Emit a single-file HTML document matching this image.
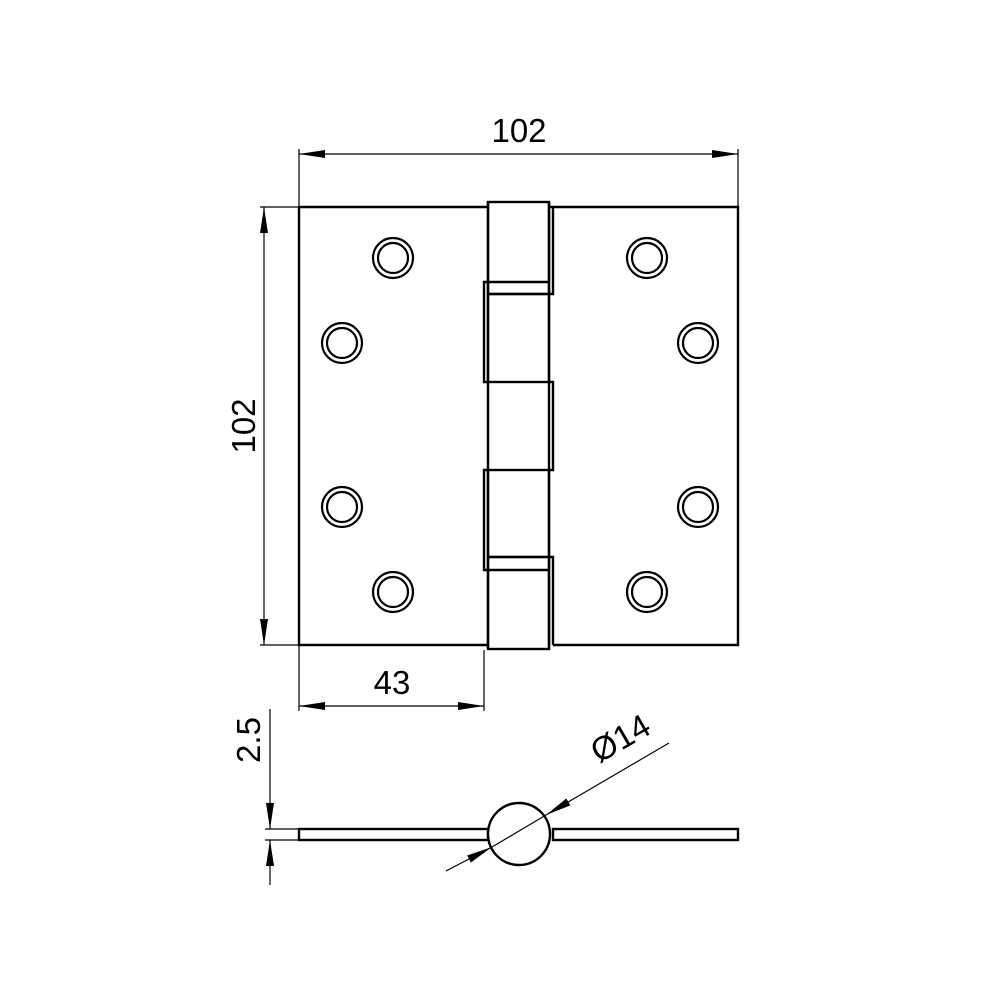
<!DOCTYPE html>
<html><head><style>body{margin:0;background:#fff}svg{display:block}</style></head><body>
<svg width="1000" height="1000" viewBox="0 0 1000 1000" xmlns="http://www.w3.org/2000/svg">
<defs>
<marker id="a" markerWidth="26" markerHeight="8" refX="26" refY="4" orient="auto" markerUnits="userSpaceOnUse"><path d="M0,0 L26,4 L0,8 z" fill="#000"/></marker>
</defs>
<g fill="none" stroke="#000" stroke-width="2.4">
<path d="M488,207 H299 V645 H488"/>
<path d="M553,207 H738 V645 H553"/>
<line x1="488" y1="202" x2="488" y2="649"/>
<line x1="549" y1="202" x2="549" y2="649"/>
<rect x="488" y="202" width="61" height="92"/>
<path d="M549,207 H553 V294 H549"/>
<rect x="488" y="294" width="61" height="88"/>
<path d="M488,282 H484 V382 H488"/>
<path d="M549,382 H553 V470 H549"/>
<rect x="488" y="470" width="61" height="87"/>
<path d="M488,470 H484 V570 H488"/>
<rect x="488" y="557" width="61" height="92"/>
<path d="M549,557 H553 V645"/>
<line x1="488" y1="282" x2="549" y2="282"/>
<line x1="488" y1="570" x2="549" y2="570"/>
<g stroke-width="2.2">
<circle cx="393" cy="258" r="20"/><circle cx="393" cy="258" r="15"/>
<circle cx="342" cy="343" r="20"/><circle cx="342" cy="343" r="15"/>
<circle cx="342" cy="507" r="20"/><circle cx="342" cy="507" r="15"/>
<circle cx="393" cy="592" r="20"/><circle cx="393" cy="592" r="15"/>
<circle cx="647" cy="258" r="20"/><circle cx="647" cy="258" r="15"/>
<circle cx="698" cy="343" r="20"/><circle cx="698" cy="343" r="15"/>
<circle cx="698" cy="507" r="20"/><circle cx="698" cy="507" r="15"/>
<circle cx="647" cy="592" r="20"/><circle cx="647" cy="592" r="15"/>
</g>
<rect x="299" y="829" width="189" height="11"/>
<rect x="553" y="829" width="185" height="11"/>
<circle cx="519" cy="834" r="31" fill="#fff"/>
</g>
<g stroke="#000" stroke-width="1.2" fill="none">
<line x1="299" y1="149" x2="299" y2="207"/>
<line x1="738" y1="149" x2="738" y2="207"/>
<line x1="520" y1="154" x2="299" y2="154" marker-end="url(#a)"/>
<line x1="520" y1="154" x2="738" y2="154" marker-end="url(#a)"/>
<line x1="260" y1="207" x2="299" y2="207"/>
<line x1="260" y1="645" x2="299" y2="645"/>
<line x1="264" y1="426" x2="264" y2="207" marker-end="url(#a)"/>
<line x1="264" y1="426" x2="264" y2="645" marker-end="url(#a)"/>
<line x1="299" y1="645" x2="299" y2="711"/>
<line x1="484" y1="650" x2="484" y2="711"/>
<line x1="392" y1="706" x2="299" y2="706" marker-end="url(#a)"/>
<line x1="392" y1="706" x2="484" y2="706" marker-end="url(#a)"/>
<line x1="265" y1="829" x2="299" y2="829"/>
<line x1="265" y1="840" x2="299" y2="840"/>
<line x1="270" y1="709" x2="270" y2="829" marker-end="url(#a)"/>
<line x1="270" y1="885" x2="270" y2="840" marker-end="url(#a)"/>
<line x1="669" y1="743" x2="546" y2="815" marker-end="url(#a)"/>
<line x1="446" y1="871" x2="492" y2="847" marker-end="url(#a)"/>
<line x1="492" y1="847" x2="546" y2="815"/>
</g>
<g font-family="Liberation Sans, sans-serif" font-size="33" fill="#000" text-anchor="middle">
<text x="519" y="142">102</text>
<text x="392" y="694">43</text>
<text transform="translate(255,426) rotate(-90)">102</text>
<text transform="translate(260,740) rotate(-90)">2.5</text>
<text transform="translate(626,748) rotate(-30)">Ø14</text>
</g>
</svg>
</body></html>
